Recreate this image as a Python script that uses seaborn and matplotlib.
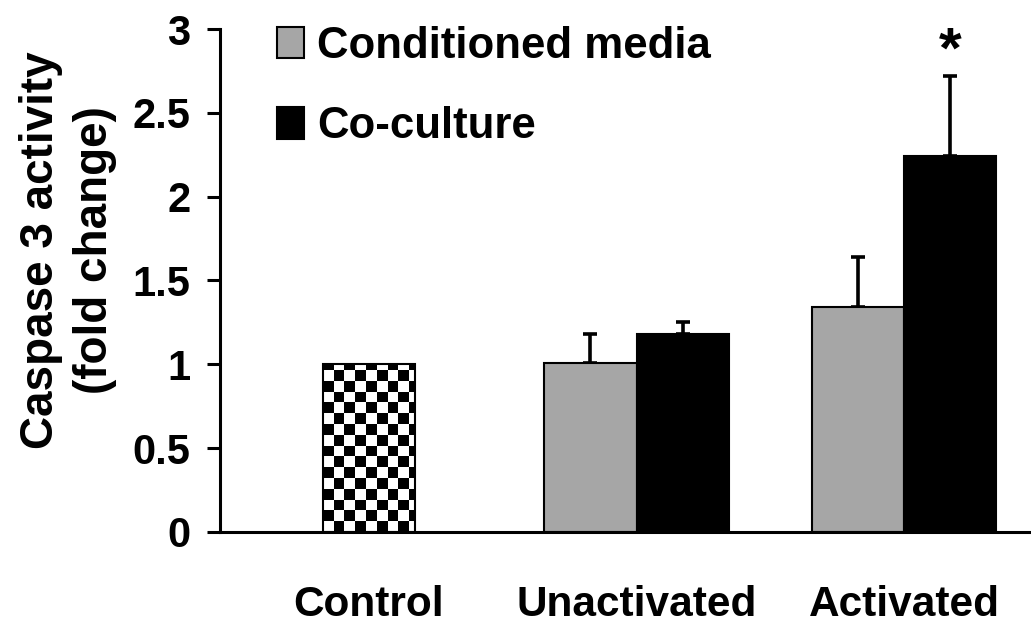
import numpy as np
import pandas as pd
import matplotlib
matplotlib.use('Agg')
import matplotlib.pyplot as plt
import seaborn as sns
from matplotlib.ticker import FormatStrFormatter

# Data (fold change, mean + upper error)
groups = ['Control', 'Unactivated', 'Activated']
conditions = ['Conditioned media', 'Co-culture']
control_mean = [1.0]
cm_mean = [1.01, 1.34]
cm_err = [0.17, 0.30]
cc_mean = [1.18, 2.24]
cc_err = [0.07, 0.48]

df = pd.DataFrame({
    'group': groups[1:] * 2,
    'condition': [conditions[0]] * 2 + [conditions[1]] * 2,
    'value': cm_mean + cc_mean,
})

sns.set_style('ticks')
plt.rcParams['font.family'] = ['Liberation Sans', 'DejaVu Sans']
plt.rcParams['font.weight'] = 'bold'
for k in ['text.color', 'axes.labelcolor', 'xtick.color', 'ytick.color',
          'axes.edgecolor']:
    plt.rcParams[k] = 'black'

fig = plt.figure(figsize=(10.31, 6.28), dpi=100)
ax = fig.add_axes([0.2134, 0.1529, 0.7866, 0.8009])

gray = '#a6a6a6'
bar_w = 0.344
xlim = (-0.5556, 2.4734)

# control bar (patterned below)
sns.barplot(x=['Control'], y=control_mean, order=groups, width=bar_w,
            color='white', edgecolor='black', linewidth=1.5, ax=ax)
# treated groups
sns.barplot(data=df, x='group', y='value', hue='condition', order=groups,
            hue_order=conditions, palette=[gray, 'black'], width=2 * bar_w,
            edgecolor='black', linewidth=1.5, saturation=1, ax=ax)

ax.set_xlim(*xlim)
ax.set_ylim(0, 3)

# upper error bars only
for cont, means, errs in [(ax.containers[1], cm_mean, cm_err),
                          (ax.containers[2], cc_mean, cc_err)]:
    xs = [p.get_x() + p.get_width() / 2 for p in cont]
    ax.errorbar(xs, means, yerr=[np.zeros(len(errs)), errs], fmt='none',
                ecolor='black', elinewidth=2.6, capsize=4.8, capthick=2.6,
                zorder=0.5)

# checkerboard fill for the control bar
bar = ax.containers[0][0]
p0 = ax.transData.transform((0, 0))
p1 = ax.transData.transform((1, 1))
cell_px = 10.8
cw = cell_px / (p1[0] - p0[0])
ch = cell_px / (p1[1] - p0[1])
ncols = int(np.ceil(bar.get_width() / cw)) + 1
nrows = int(np.ceil(bar.get_height() / ch)) + 1
checker = np.indices((nrows, ncols)).sum(axis=0) % 2
x0 = bar.get_x()
xe = x0 + cw * np.arange(ncols + 1)
ye = ch * np.arange(nrows + 1)
mesh = ax.pcolormesh(xe, ye, checker, cmap='Greys', vmin=0, vmax=1,
                     antialiased=False, linewidth=0, zorder=1.2)
mesh.set_clip_path(bar)
bar.set_facecolor('none')
bar.set_zorder(2)
ax.set_xlim(*xlim)
ax.set_ylim(0, 3)

# significance mark
top_bar = ax.containers[2][1]
ax.text(top_bar.get_x() + top_bar.get_width() / 2,
        cc_mean[1] + cc_err[1] - 0.02,
        '*', ha='center', va='bottom', fontsize=42, fontweight='bold')

# axes styling
sns.despine(ax=ax)
for s in ['left', 'bottom']:
    ax.spines[s].set_linewidth(2.2)
ax.set_yticks(np.arange(0, 3.01, 0.5))
ax.yaxis.set_major_formatter(FormatStrFormatter('%g'))
ax.tick_params(axis='y', direction='out', length=9.5, width=2.2, pad=12,
               labelsize=30)
ax.tick_params(axis='x', length=0, pad=38, labelsize=30.5)
ax.set_xlabel('')
ax.set_ylabel('Caspase 3 activity\n(fold change)', fontsize=33,
              fontweight='bold', linespacing=1.3)
ax.yaxis.set_label_coords(-0.127, 0.561)

# legend
leg = ax.get_legend()
handles = leg.legend_handles
labels = [t.get_text() for t in leg.get_texts()]
for h in handles:
    h.set_edgecolor('black')
    h.set_linewidth(1.5)
ax.legend(handles, labels, loc='upper left', frameon=False,
          bbox_to_anchor=(277 / 1031, 1 - 26 / 628),
          bbox_transform=fig.transFigure, borderpad=0, fontsize=31.5,
          handlelength=0.62, handleheight=0.72, handletextpad=0.3,
          labelspacing=0.9, borderaxespad=0)

fig.savefig('out.png', dpi=100)
